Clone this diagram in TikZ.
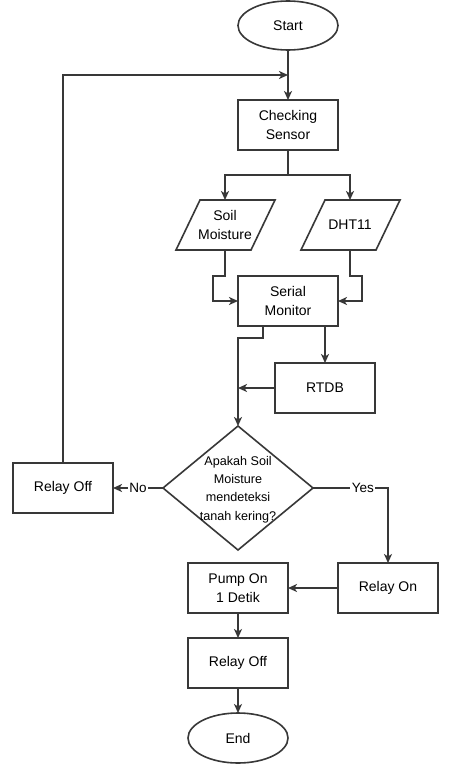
\documentclass[tikz,border=0pt]{standalone}
\usepackage{fontspec}
\setmainfont{Liberation Sans}
\usetikzlibrary{shapes.geometric,arrows.meta}
\begin{document}
\begin{tikzpicture}[x=1pt,y=-1pt,
  every node/.style={inner sep=0pt, outer sep=0pt, align=center},
  ln/.style={line width=1.6pt, draw=black!78},
  arr/.style={ln, -{Stealth[length=9pt,width=8pt,inset=2.5pt]}},
  boxtxt/.style={font=\fontsize{14}{18.8}\selectfont},
  procbox/.style={rectangle, ln, boxtxt, minimum width=100pt, minimum height=50pt},
  term/.style={ellipse, ln, boxtxt, minimum width=100pt, minimum height=49pt},
  paratxt/.style={boxtxt, minimum width=75pt, minimum height=50pt},
  lbl/.style={fill=white, inner sep=1.5pt, font=\fontsize{13.5}{15}\selectfont}
]
\useasboundingbox (0,0) rectangle (449,768);
\fill[white] (0,0) rectangle (449,768);

\node[term] (start) at (288,25.5) {Start};
\node[procbox] (check) at (288,125) {Checking\\Sensor};
\coordinate (join) at (288,75);

\node[paratxt] (soil) at (225,225) {Soil\\Moisture};
\draw[ln] (176,250) -- (200,200) -- (275,200) -- (251,250) -- cycle;
\node[paratxt] (dht) at (350,225) {DHT11};
\draw[ln] (301,250) -- (325,200) -- (400,200) -- (376,250) -- cycle;

\node[procbox] (serial) at (288,301) {Serial\\Monitor};
\node[procbox] (rtdb) at (325,388) {RTDB};

\node[diamond, ln, minimum width=150pt, minimum height=124pt] (dec) at (238,488) {};
\node[font=\fontsize{12.6}{18.2}\selectfont] (dectxt) at (238,489.5) {Apakah Soil\\Moisture\\mendeteksi\\tanah kering?};

\node[procbox] (roffa) at (63,488) {Relay Off};
\node[procbox] (ron) at (388,588) {Relay On};
\node[procbox] (pump) at (238,588) {Pump On\\1 Detik};
\node[procbox] (roffb) at (238,663) {Relay Off};
\node[term, minimum height=50pt] (end) at (238,738) {End};

\draw[arr] (start.south) -- (check.north);
\draw[arr] (roffa.north) |- (join);
\draw[arr] (check.south) -- ++(0,25) -| (soil.north);
\draw[arr] (check.south) -- ++(0,25) -| (dht.north);
\draw[arr] (soil.south) -- ++(0,26) -- ++(-12,0) |- (serial.west);
\draw[arr] (dht.south) -- ++(0,26) -- ++(12,0) |- (serial.east);
\draw[arr] (serial.south -| rtdb.north) -- (rtdb.north);
\draw[arr] ([xshift=-25pt]serial.south) -- ++(0,12) -| (dec.north);
\draw[arr] (rtdb.west) -- (rtdb.west -| dec.north);
\draw[arr] (dec.west) -- node[lbl] {No} (roffa.east);
\draw[arr] (dec.east) -| node[lbl, pos=0.333] {Yes} (ron.north);
\draw[arr] (ron.west) -- (pump.east);
\draw[arr] (pump.south) -- (roffb.north);
\draw[arr] (roffb.south) -- (end.north);
\end{tikzpicture}
\end{document}
